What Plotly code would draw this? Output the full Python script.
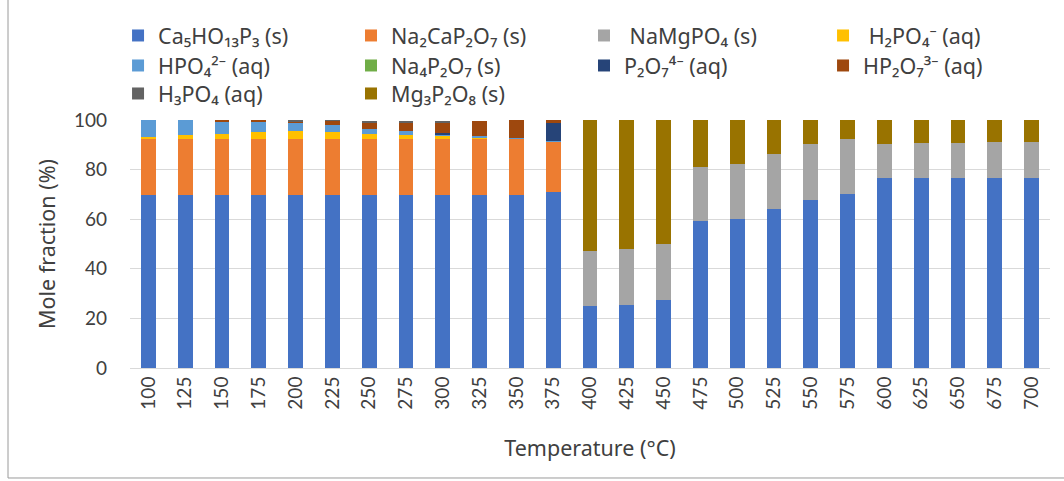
import plotly.graph_objects as go

# Temperature steps (°C) on the category axis
temperatures = ["100", "125", "150", "175", "200", "225", "250", "275", "300",
                "325", "350", "375", "400", "425", "450", "475", "500", "525",
                "550", "575", "600", "625", "650", "675", "700"]

# Mole fraction (%) of each phosphorus species, bottom of the stack first
ca5ho13p3 = [69.8, 69.8, 69.8, 69.8, 69.8, 69.8, 69.8, 69.8, 69.8, 69.8, 69.8, 70.8,
             25.0, 25.5, 27.5, 59.1, 60.1, 64.1, 67.7, 70.3, 76.8, 76.8, 76.8, 76.8, 76.8]
na2cap2o7 = [22.6, 22.6, 22.6, 22.6, 22.6, 22.6, 22.6, 22.6, 22.6, 22.6, 22.8, 20.5,
             0, 0, 0, 0, 0, 0, 0, 0, 0, 0, 0, 0, 0]
namgpo4 = [0, 0, 0, 0, 0, 0, 0, 0, 0, 0, 0, 0,
           22.3, 22.3, 22.7, 22.1, 22.2, 22.3, 22.7, 22.1, 13.6, 14.1, 14.1, 14.5, 14.5]
h2po4 = [0.9, 1.5, 2.0, 2.7, 3.2, 2.7, 1.9, 1.6, 1.4, 0.6, 0, 0,
         0, 0, 0, 0, 0, 0, 0, 0, 0, 0, 0, 0, 0]
hpo4 = [6.7, 6.1, 4.9, 4.2, 3.2, 3.0, 2.1, 1.6, 0.5, 0.4, 0.3, 0.2,
        0, 0, 0, 0, 0, 0, 0, 0, 0, 0, 0, 0, 0]
na4p2o7 = [0, 0, 0, 0, 0, 0, 0, 0, 0, 0, 0, 0,
           0, 0, 0, 0, 0, 0, 0, 0, 0, 0, 0, 0, 0]
p2o7 = [0, 0, 0, 0, 0, 0, 0, 0, 0.4, 0, 0, 7.3,
        0, 0, 0, 0, 0, 0, 0, 0, 0, 0, 0, 0, 0]
hp2o7 = [0, 0, 0.7, 0.7, 0.6, 1.6, 2.6, 3.4, 4.1, 6.0, 7.2, 1.4,
         0, 0, 0, 0, 0, 0, 0, 0, 0, 0, 0, 0, 0]
h3po4 = [0, 0, 0, 0, 0.4, 0.3, 0.5, 0.5, 0.5, 0, 0, 0,
         0, 0, 0, 0, 0, 0, 0, 0, 0, 0, 0, 0, 0]
mg3p2o8 = [0, 0, 0, 0, 0, 0, 0, 0, 0, 0, 0, 0,
           52.7, 52.2, 49.8, 18.8, 17.7, 13.6, 9.6, 7.6, 9.6, 9.1, 9.1, 8.7, 8.7]

series = [
    ("Ca₅HO₁₃P₃ (s)", ca5ho13p3, "#4472C4"),
    ("Na₂CaP₂O₇ (s)", na2cap2o7, "#ED7D31"),
    (" NaMgPO₄ (s)", namgpo4, "#A5A5A5"),
    (" H₂PO₄⁻ (aq)", h2po4, "#FFC000"),
    ("HPO₄²⁻ (aq)", hpo4, "#5B9BD5"),
    ("Na₄P₂O₇ (s)", na4p2o7, "#70AD47"),
    ("P₂O₇⁴⁻ (aq)", p2o7, "#264478"),
    ("HP₂O₇³⁻ (aq)", hp2o7, "#9E480E"),
    ("H₃PO₄ (aq)", h3po4, "#636363"),
    ("Mg₃P₂O₈ (s)", mg3p2o8, "#997300"),
]

TICK_FONT = "Lato, 'Noto Sans', sans-serif"
LABEL_FONT = "'Noto Sans', Lato, sans-serif"
LABEL_SIZE = 21.5
TEXT = "#404040"

# Legend grid: 4 columns x 3 rows, one small legend per entry
legend_cols = [-0.013, 0.2402, 0.4935, 0.7533]
legend_rows = [1.4234, 1.3024, 1.1895]

fig = go.Figure()
legend_layout = {}
for i, (name, values, color) in enumerate(series):
    key = "legend" if i == 0 else f"legend{i + 1}"
    fig.add_trace(go.Bar(
        x=temperatures, y=values, name=name,
        marker=dict(color=color, line=dict(width=0)),
        legend=key,
    ))
    legend_layout[key] = dict(
        x=legend_cols[i % 4], xanchor="left",
        y=legend_rows[i // 4], yanchor="top",
        bgcolor="rgba(0,0,0,0)",
        font=dict(family=LABEL_FONT, size=LABEL_SIZE, color=TEXT),
        itemclick=False, itemdoubleclick=False,
    )

# Chart frame (left and bottom edges)
frame = dict(type="line", xref="paper", yref="paper",
             line=dict(color="#9A9A9A", width=1))
fig.add_shape(**frame, x0=-0.1326, x1=-0.1326, y0=-0.4435, y1=1.5)
fig.add_shape(**frame, x0=-0.1326, x1=1.02, y0=-0.4435, y1=-0.4435)

fig.update_layout(
    barmode="stack",
    bargap=0.6,
    width=1064, height=481,
    margin=dict(l=130, r=14, t=120, b=113),
    paper_bgcolor="white",
    plot_bgcolor="white",
    font=dict(family=TICK_FONT, size=19, color=TEXT),
    showlegend=True,
    xaxis=dict(
        type="category",
        tickangle=-90,
        showgrid=False,
        showline=True, linecolor="#D9D9D9", linewidth=1,
        ticks="",
        tickfont=dict(family=TICK_FONT, size=19, color=TEXT),
        title=dict(text="Temperature (°C)",
                   font=dict(family=LABEL_FONT, size=LABEL_SIZE, color=TEXT), standoff=32),
    ),
    yaxis=dict(
        range=[0, 100],
        tickvals=[0, 20, 40, 60, 80, 100],
        showgrid=True, gridcolor="#D9D9D9", gridwidth=1,
        zeroline=False,
        ticks="", ticklabelstandoff=22,
        tickfont=dict(family=TICK_FONT, size=19, color=TEXT),
        title=dict(text="Mole fraction (%)",
                   font=dict(family=LABEL_FONT, size=LABEL_SIZE, color=TEXT), standoff=12),
    ),
    **legend_layout,
)

fig.write_html("out.html")
